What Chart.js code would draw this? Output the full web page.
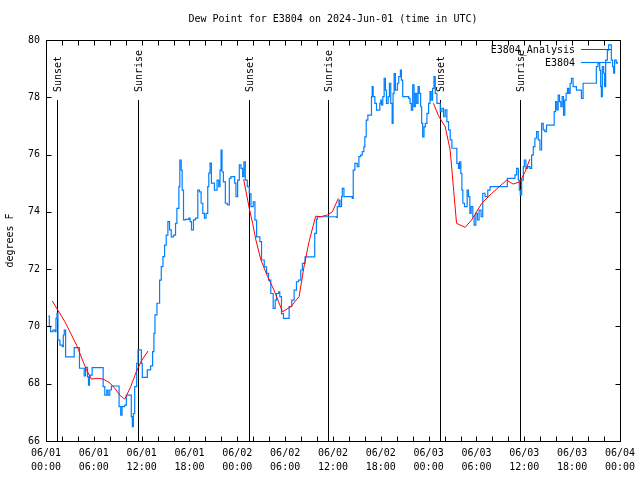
<!DOCTYPE html>
<html>
<head>
<meta charset="utf-8">
<script src="https://cdn.jsdelivr.net/npm/chart.js@4/dist/chart.umd.min.js"></script>
<style>
html, body { margin: 0; padding: 0; background: #fff; }
</style>
</head>
<body>
<canvas id="c" width="640" height="480"></canvas>
<script>
const FONT = "'DejaVu Sans Mono', monospace";
const TITLE = 'Dew Point for E3804 on 2024-Jun-01 (time in UTC)';

// hours since 2024-06-01 00:00 UTC
const xTickLabels = [
    ['06/01', '00:00'], ['06/01', '06:00'], ['06/01', '12:00'], ['06/01', '18:00'],
    ['06/02', '00:00'], ['06/02', '06:00'], ['06/02', '12:00'], ['06/02', '18:00'],
    ['06/03', '00:00'], ['06/03', '06:00'], ['06/03', '12:00'], ['06/03', '18:00'],
    ['06/04', '00:00']
];

const sunTimes = [1.42, 11.5, 25.42, 35.42, 49.42, 59.42];
const sunLabels = ['Sunset', 'Sunrise', 'Sunset', 'Sunrise', 'Sunset', 'Sunrise'];

// analysis line (null = gap)
const analysisT = [0.79, 1.41, 2.38, 3.83, 5.08, 5.7, 6.54, 7.17, 8.0, 8.63, 9.25, 9.88, 10.63, 11.33, 11.96, 12.79,
    13.5,
    24.79, 25.5, 25.92, 26.33, 26.96, 27.8, 28.6, 29.67, 30.7, 31.75, 32.4, 33.0, 33.83, 34.46, 35.3, 35.92, 36.67,
    37.5,
    48.6, 49.25, 50.08, 50.7, 51.1, 51.5, 52.58, 53.4, 54.67, 55.92, 57.8, 58.6, 59.46, 60.1, 60.7];
const analysisV = [70.89, 70.6, 70.16, 69.35, 68.48, 68.16, 68.19, 68.16, 68.03, 67.84, 67.6, 67.46, 67.9, 68.42, 68.79, 69.14,
    null,
    75.14, 74.12, 73.6, 73.02, 72.32, 71.74, 71.27, 70.51, 70.69, 71.04, 72.14, 72.96, 73.85, 73.83, 73.89, 74.0, 74.47,
    null,
    77.79, 77.35, 76.97, 76.16, 74.88, 73.6, 73.46, 73.72, 74.3, 74.65, 75.11, 74.97, 75.05, 75.4, 75.84];

// station observations
const obsT = [0.29, 0.42, 0.58, 0.875, 1.125, 1.25, 1.375, 1.5, 1.75, 2.04, 2.17, 2.29, 2.46, 3.2, 3.54, 4.04, 4.2, 4.79,
    4.96, 5.21, 5.33, 5.46, 5.79, 7.04, 7.17, 7.375, 7.625, 7.79, 8.0, 8.2, 9.04, 9.17, 9.375, 9.54, 9.875, 10.08,
    10.625, 10.7, 10.83, 10.96, 11.125, 11.375, 11.54, 11.75, 11.96, 12.08, 12.5, 12.71, 13.125, 13.375, 13.54,
    13.67, 13.92, 14.25, 14.46, 14.67, 14.875, 15.08, 15.29, 15.5, 15.71, 16.0, 16.25, 16.42, 16.67, 16.79, 16.96,
    17.08, 17.25, 17.5, 17.92, 18.08, 18.25, 18.5, 18.75, 19.04, 19.25, 19.46, 19.67, 19.875, 20.08, 20.29, 20.42,
    20.58, 20.75, 21.125, 21.33, 21.46, 21.67, 21.83, 21.96, 22.08, 22.25, 22.5, 22.75, 23.0, 23.2, 23.42, 23.67,
    23.83, 24.04, 24.25, 24.46, 24.67, 24.83, 25.0, 25.25,
    25.5, 25.71, 26.0, 26.21, 26.42, 26.67, 26.83, 27.04, 27.375, 27.67, 27.92, 28.2, 28.5, 28.75, 28.92, 29.17,
    29.33, 29.54, 29.79, 30.29, 30.5, 30.83, 31.125, 31.42, 31.67, 31.96, 32.17, 32.5, 33.54, 33.71, 33.92, 34.04,
    36.42, 36.54, 36.75, 36.875, 37.08, 37.17, 37.375, 38.42, 38.54, 38.75, 39.04, 39.25, 39.46, 39.67, 39.875,
    40.0, 40.17, 40.375, 40.71, 40.83, 40.92, 41.04, 41.25, 41.46, 41.67, 41.875, 42.0, 42.08, 42.25, 42.42, 42.58,
    42.71, 42.92, 43.08, 43.25, 43.42, 43.54, 43.67, 43.83, 44.08, 44.25, 44.46, 44.58, 44.75, 45.29, 45.5, 45.67,
    45.83, 46.0, 46.17, 46.33, 46.5, 46.67, 46.83, 47.0, 47.125, 47.25, 47.42, 47.58, 47.79, 48.0, 48.17, 48.33,
    48.5, 48.67, 48.83, 49.04,
    49.25, 49.46, 49.67, 49.875, 50.08, 50.29, 50.5, 50.71, 50.92, 51.33, 51.54, 51.75, 51.875, 52.04, 52.17, 52.29,
    52.5, 52.67, 52.83, 53.0, 53.17, 53.33, 53.54, 53.71, 53.92, 54.125, 54.33, 54.58, 54.79, 55.08, 55.42, 55.71,
    57.79, 57.875, 58.625, 58.83, 59.04, 59.25, 59.375, 59.5, 59.67, 59.875, 60.0, 60.2, 60.42, 60.71, 60.92,
    61.125, 61.33, 61.54, 61.75, 61.96, 62.17, 62.375, 62.58, 62.79, 63.625, 63.75, 63.92, 64.08, 64.25, 64.42,
    64.58, 64.75, 64.92, 65.08, 65.25, 65.42, 65.58, 65.75, 65.92, 66.125, 66.33, 66.54, 66.96, 67.17, 67.375,
    68.83, 69.04, 69.25, 69.46, 69.58, 69.67, 69.79, 69.96, 70.08, 70.21, 70.42, 70.58, 70.79, 70.92, 71.08,
    71.21, 71.33, 71.54, 71.67];
const obsV = [70.36, 69.99, 69.82, 69.87, 69.82, 70.28, 70.46, 69.52, 69.35, 69.29, 69.7, 69.87, 68.94, 68.94, 69.26, 69.26, 68.54, 68.27,
    68.57, 68.24, 67.95, 68.3, 68.56, 68.56, 67.9, 67.6, 67.78, 67.6, 67.78, 67.92, 67.92, 67.2, 66.9, 67.2, 67.25, 67.6,
    67.6, 66.85, 66.5, 66.96, 67.9, 68.71, 69.18, 69.18, 68.71, 68.22, 68.22, 68.48, 68.62, 69.12, 69.76,
    70.4, 70.81, 71.62, 72.09, 72.44, 72.84, 73.19, 73.66, 73.37, 73.13, 73.19, 73.6, 74.12, 74.88, 75.81, 75.46,
    74.76, 73.72, 73.74, 73.78, 73.66, 73.37, 73.72, 73.78, 74.76, 74.7, 74.3, 73.95, 73.78, 73.95, 74.88, 75.35,
    75.7, 75.0, 74.76, 74.76, 75.11, 74.88, 75.46, 76.16, 75.4, 75.05, 74.3, 74.24, 75.17, 75.23, 75.23, 75.0,
    74.53, 75.11, 75.64, 75.52, 75.23, 75.75, 75.11, 74.88,
    74.64, 74.18, 74.35, 73.71, 73.13, 73.13, 72.96, 72.32, 72.08, 71.85, 71.62, 71.15, 70.63, 70.92, 71.15, 71.21,
    71.04, 70.45, 70.28, 70.28, 70.69, 70.92, 71.27, 71.56, 71.62, 71.97, 72.2, 72.43, 72.43, 73.25, 73.74, 73.83,
    73.81, 74.18, 74.41, 74.18, 74.53, 74.82, 74.53, 74.47, 75.46, 75.69, 75.58, 75.93, 75.98, 76.1, 76.27,
    76.62, 77.2, 77.38, 77.38, 78.02, 78.37, 78.02, 77.79, 77.55, 77.55, 77.79, 77.9, 77.73, 78.02, 78.66, 78.25,
    77.79, 78.02, 78.49, 77.79, 77.09, 78.14, 78.83, 78.25, 78.49, 78.72, 78.95, 78.6, 78.02, 78.02, 77.96, 77.79,
    77.55, 78.43, 77.67, 78.14, 77.79, 78.37, 78.14, 77.67, 77.09, 76.62, 76.97, 77.09, 77.44, 77.79, 78.2, 77.9,
    78.31, 78.72, 78.14, 77.79,
    77.79, 77.5, 77.61, 77.32, 77.56, 77.15, 76.86, 76.51, 76.22, 76.22, 75.69, 75.52, 75.75, 75.34, 74.76, 74.3,
    74.18, 74.18, 74.76, 74.53, 73.95, 74.18, 73.83, 73.54, 73.95, 73.72, 74.06, 73.83, 74.65, 74.53, 74.76, 74.88,
    74.88, 75.17, 75.17, 75.29, 75.52, 75.11, 74.76, 74.59, 75.11, 75.58, 75.81, 75.52, 75.58, 75.52, 75.98,
    76.28, 76.57, 76.8, 76.51, 76.16, 77.09, 76.86, 76.8, 77.03, 77.03, 77.5, 77.85, 77.56, 78.08, 77.85,
    77.67, 78.02, 77.38, 77.9, 78.14, 78.31, 78.14, 78.49, 78.66, 78.37, 78.37, 78.25, 78.25, 77.96, 78.49,
    78.49, 79.07, 79.19, 78.95, 78.37, 78.02, 79.07, 78.84, 78.37, 79.3, 79.65, 79.83, 79.83, 79.3, 79.07,
    78.84, 79.3, 79.19, 79.24];

const RED = '#ff0000';
const BLUE = '#0080ff';

function toPoints(ts, vs) {
    return ts.map((t, i) => ({ x: t, y: vs[i] }));
}

// gnuplot-like title, frame, inward ticks, sun lines and legend
const decorations = {
    id: 'decorations',
    beforeDatasetsDraw(chart) {
        const { ctx, chartArea: a, scales: { x, y } } = chart;
        ctx.save();
        ctx.fillStyle = '#000';
        ctx.font = '10px ' + FONT;
        ctx.textAlign = 'center';
        ctx.textBaseline = 'middle';
        ctx.fillText(TITLE, (a.left + a.right) / 2, 19);

        ctx.strokeStyle = '#000';
        ctx.lineWidth = 1;
        const yTop = Math.round(y.getPixelForValue(77.9));
        sunTimes.forEach((t, i) => {
            const px = Math.round(x.getPixelForValue(t)) + 0.5;
            ctx.beginPath();
            ctx.moveTo(px, yTop);
            ctx.lineTo(px, a.bottom);
            ctx.stroke();
            ctx.save();
            ctx.translate(px + 1, yTop - 8);
            ctx.rotate(-Math.PI / 2);
            ctx.textAlign = 'left';
            ctx.textBaseline = 'middle';
            ctx.fillText(sunLabels[i], 0, 0);
            ctx.restore();
        });
        ctx.restore();
    },
    afterDatasetsDraw(chart) {
        const { ctx, chartArea: a, scales: { x, y } } = chart;
        const L = Math.round(a.left) + 0.5, R = Math.round(a.right) + 0.5;
        const T = Math.round(a.top) + 0.5, B = Math.round(a.bottom) + 0.5;
        ctx.save();
        ctx.strokeStyle = '#000';
        ctx.lineWidth = 1;
        ctx.strokeRect(L, T, R - L, B - T);
        const tl = 5;
        ctx.beginPath();
        x.ticks.forEach(tk => {
            const px = Math.round(x.getPixelForValue(tk.value)) + 0.5;
            ctx.moveTo(px, B); ctx.lineTo(px, B - tl);
            ctx.moveTo(px, T); ctx.lineTo(px, T + tl);
        });
        y.ticks.forEach(tk => {
            const py = Math.round(y.getPixelForValue(tk.value)) + 0.5;
            ctx.moveTo(L, py); ctx.lineTo(L + tl, py);
            ctx.moveTo(R, py); ctx.lineTo(R - tl, py);
        });
        ctx.stroke();

        // legend
        ctx.font = '10px ' + FONT;
        ctx.fillStyle = '#000';
        ctx.textAlign = 'right';
        ctx.textBaseline = 'middle';
        chart.data.datasets.forEach((ds, i) => {
            const ly = 50 + i * 13;
            ctx.fillText(ds.label, 575, ly);
            ctx.strokeStyle = ds.borderColor;
            ctx.lineWidth = ds.borderWidth;
            ctx.beginPath();
            ctx.moveTo(581, ly - 0.5);
            ctx.lineTo(611, ly - 0.5);
            ctx.stroke();
        });
        ctx.restore();
    }
};

new Chart(document.getElementById('c'), {
    type: 'line',
    data: {
        datasets: [{
            label: 'E3804_Analysis',
            data: toPoints(analysisT, analysisV),
            borderColor: RED,
            borderWidth: 1,
            pointRadius: 0,
            spanGaps: false,
            tension: 0,
        }, {
            label: 'E3804',
            data: toPoints(obsT, obsV),
            borderColor: BLUE,
            borderWidth: 1.2,
            pointRadius: 0,
            stepped: true,
        }]
    },
    plugins: [decorations],
    options: {
        responsive: false,
        animation: false,
        devicePixelRatio: 1,
        layout: { padding: { left: 0, right: 18, top: 40, bottom: 0 } },
        plugins: {
            legend: { display: false },
            tooltip: { enabled: false },
            title: { display: false },
        },
        scales: {
            x: {
                type: 'linear',
                min: 0,
                max: 72,
                afterFit(scale) { scale.height = 39; },
                grid: { display: false, drawTicks: false },
                border: { display: false },
                ticks: {
                    stepSize: 2,
                    autoSkip: false,
                    maxRotation: 0,
                    padding: 5,
                    color: '#000',
                    font: { family: FONT, size: 10, lineHeight: 1.4 },
                    callback: (v) => (v % 6 === 0 ? xTickLabels[v / 6] : ''),
                },
            },
            y: {
                min: 66,
                max: 80,
                afterFit(scale) { scale.width = 46; },
                grid: { display: false, drawTicks: false },
                border: { display: false },
                ticks: {
                    stepSize: 2,
                    padding: 6,
                    color: '#000',
                    font: { family: FONT, size: 10 },
                },
                title: {
                    display: true,
                    text: 'degrees F',
                    color: '#000',
                    font: { family: FONT, size: 10, lineHeight: 1.2 },
                    padding: { top: 4, bottom: 0 },
                },
            },
        },
    },
});
</script>
</body>
</html>
